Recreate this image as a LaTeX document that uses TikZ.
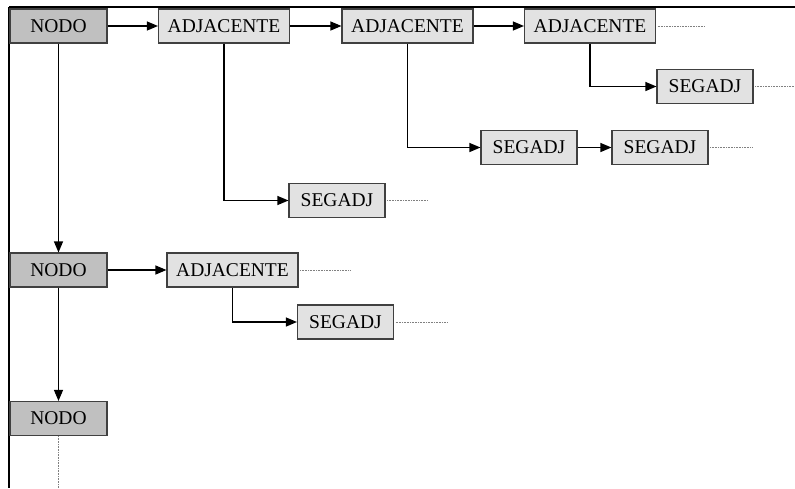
\documentclass[tikz,border=0pt]{standalone}
\usepackage{fontspec}
\setmainfont{Liberation Serif}
\usetikzlibrary{arrows.meta}
\definecolor{nodofill}{HTML}{C0C0C0}
\definecolor{adjfill}{HTML}{E2E2E2}
\definecolor{edgegray}{HTML}{404040}
\begin{document}
\begin{tikzpicture}[x=1pt,y=-1pt,
  box/.style={draw=edgegray, line width=1.1pt, minimum height=34pt, inner sep=0pt,
    font=\fontsize{19.5}{22}\selectfont},
  nodobox/.style={box, fill=nodofill, minimum width=97pt},
  adjbox/.style={box, fill=adjfill, minimum width=131pt},
  segbox/.style={box, fill=adjfill, minimum width=96pt},
  link/.style={line width=1.1pt, -{Triangle[length=11pt,width=9pt]}},
  more/.style={gray, line width=0.8pt, dash pattern=on 0.8pt off 0.8pt},
  frame/.style={line width=1.4pt, black}]
\useasboundingbox (0,0) rectangle (795,488);

% outer frame lines
\draw[frame] (9,7) -- (795,7);
\draw[frame] (9,7) -- (9,488);

% first row
\node[nodobox] (n1) at (58.5,26) {NODO};
\node[adjbox] (a1) at (224,26) {ADJACENTE};
\node[adjbox] (a2) at (407.5,26) {ADJACENTE};
\node[adjbox] (a3) at (590,26) {ADJACENTE};
\node[segbox] (s3) at (705,86.5) {SEGADJ};
\node[segbox] (s2a) at (529,147.5) {SEGADJ};
\node[segbox] (s2b) at (660,147.5) {SEGADJ};
\node[segbox] (s1) at (337,200.5) {SEGADJ};

% second row
\node[nodobox] (n2) at (58.5,270) {NODO};
\node[adjbox] (a21) at (232.5,270) {ADJACENTE};
\node[segbox] (s21) at (345.5,322) {SEGADJ};

% third row
\node[nodobox] (n3) at (58.5,418.5) {NODO};

% list connectors
\draw[link] (n1) -- (a1);
\draw[link] (a1) -- (a2);
\draw[link] (a2) -- (a3);
\draw[link] (a3.south) |- (s3.west);
\draw[link] (a2.south) |- (s2a.west);
\draw[link] (s2a) -- (s2b);
\draw[link] (a1.south) |- (s1.west);
\draw[link] (n1) -- (n2);
\draw[link] (n2) -- (a21);
\draw[link] (a21.south) |- (s21.west);
\draw[link] (n2) -- (n3);

% continuation marks
\coordinate (e3) at (705,26);
\coordinate (es3) at (794,86.5);
\coordinate (es2b) at (752,147.5);
\coordinate (es1) at (428,200.5);
\coordinate (ea21) at (350,270);
\coordinate (es21) at (447,322);
\coordinate (en3) at (58.5,488);
\draw[more] (a3.east) ++(1.5,0) -- (e3);
\draw[more] (s3.east) ++(1.5,0) -- (es3);
\draw[more] (s2b.east) ++(1.5,0) -- (es2b);
\draw[more] (s1.east) ++(1.5,0) -- (es1);
\draw[more] (a21.east) ++(1.5,0) -- (ea21);
\draw[more] (s21.east) ++(1.5,0) -- (es21);
\draw[more] (n3.south) -- (en3);
\end{tikzpicture}
\end{document}
